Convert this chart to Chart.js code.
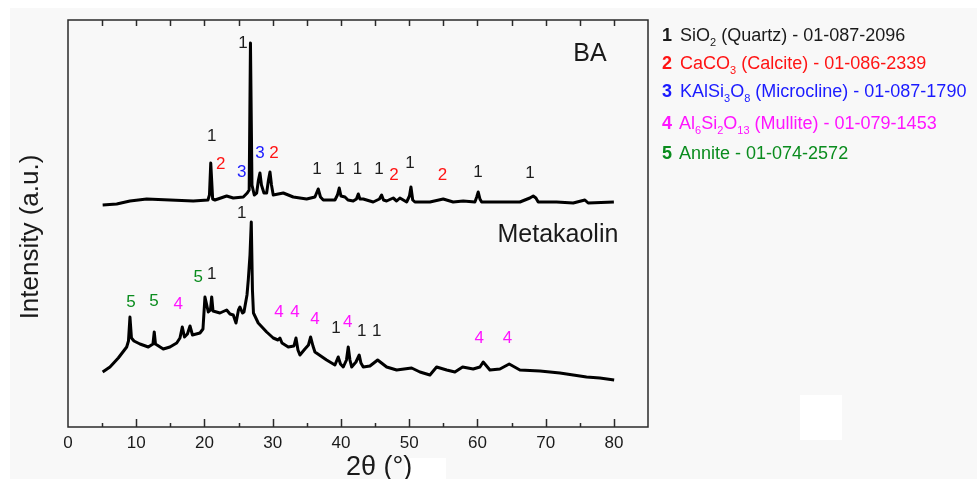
<!DOCTYPE html>
<html>
<head>
<meta charset="utf-8">
<script src="https://cdn.jsdelivr.net/npm/chart.js@4.4.0/dist/chart.umd.min.js"></script>
<style>
  body { margin: 0; background: #fff; font-family: "Liberation Sans", Arial, sans-serif; }
  #wrap { position: relative; width: 977px; height: 479px; background: #fff; overflow: hidden; }
  .bg { position: absolute; left: 10px; top: 8px; right: 0; bottom: 0; background: #f8f8f8; }
  .patch { position: absolute; background: #fff; }
  canvas { position: absolute; left: 0; top: 0; }
  .leg { position: absolute; left: 662px; font-size: 18px; white-space: nowrap; line-height: 1; }
  .leg b { margin-right: 3px; }
  .leg sub { font-size: 11px; vertical-align: -5px; line-height: 0; }
</style>
</head>
<body>
<div id="wrap">
  <div class="bg"></div>
  <div class="patch" style="left:405px;top:458px;width:41px;height:21px"></div>
  <div class="patch" style="left:800px;top:395px;width:42px;height:45px"></div>
  <canvas id="xrd" width="977" height="479"></canvas>
  <div class="leg" style="top:26px;color:#1a1a1a"><b>1</b> SiO<sub>2</sub> (Quartz) - 01-087-2096</div>
  <div class="leg" style="top:54px;color:#ff1414"><b>2</b> CaCO<sub>3</sub> (Calcite) - 01-086-2339</div>
  <div class="leg" style="top:82px;color:#1a1aff"><b>3</b> KAlSi<sub>3</sub>O<sub>8</sub> (Microcline) - 01-087-1790</div>
  <div class="leg" style="top:114px;color:#ff14ff"><b>4</b> Al<sub>6</sub>Si<sub>2</sub>O<sub>13</sub> (Mullite) - 01-079-1453</div>
  <div class="leg" style="top:144px;color:#0a8c1e"><b>5</b> Annite - 01-074-2572</div>
</div>
<script>
const xTicks = [0, 10, 20, 30, 40, 50, 60, 70, 80];
const xMinorTicks = [5, 10, 15, 20, 25, 30, 35, 40, 45, 50, 55, 60, 65, 70, 75, 80];

// BA pattern (2theta, counts a.u.)
const baTheta = [5.08, 7.14, 9.08, 11.53, 14.95, 18.36, 20.51, 20.73, 20.92, 21.2, 21.54, 23.25, 24.22, 25.69, 26.27, 26.55, 26.74, 26.96, 27.3, 27.65,
  27.91, 28.13, 28.35, 28.72, 29.11, 29.38, 29.6, 29.82, 30.08, 31.55, 33.01, 34.97, 36.19, 36.67, 37.0, 37.41, 39.12, 39.49, 39.75, 40.0,
  40.59, 41.03, 41.8, 42.27, 42.54, 42.78, 43.27, 44.73, 45.64, 45.96, 46.23, 46.7, 47.66, 48.16, 48.64, 49.63, 50.04, 50.26, 50.52, 50.84,
  53.04, 54.99, 56.45, 57.92, 59.63, 59.9, 60.12, 60.37, 60.62, 63.3, 66.23, 67.69, 68.18, 68.57, 68.91, 71.6, 74.04, 75.75, 76.23, 80.0];
const baCounts = [222, 223, 226, 228, 227, 226, 227, 232, 264, 228, 227, 231, 229, 230, 234, 237, 384, 242, 232, 234,
  247, 254, 242, 234, 234, 247, 255, 242, 232, 234, 230, 228, 230, 238, 230, 227, 227, 232, 239, 231,
  230, 227, 226, 228, 233, 228, 228, 225, 228, 232, 227, 226, 229, 226, 229, 225, 231, 240, 227, 225,
  225, 228, 225, 226, 225, 230, 235, 228, 225, 225, 225, 229, 231, 229, 225, 225, 224, 227, 224, 225];

// Metakaolin pattern
const mkTheta = [5.08, 6.15, 7.37, 8.6, 8.86, 9.08, 9.3, 9.67, 10.55, 11.77, 12.45, 12.64, 12.82, 13.96, 14.94, 15.93, 16.41, 16.75, 17.07, 17.5,
  17.88, 18.24, 19.34, 19.78, 20.07, 20.56, 20.88, 21.06, 21.25, 22.27, 23.25, 23.74, 24.22, 24.62, 24.98, 25.2, 25.57, 25.79, 26.23, 26.42,
  26.67, 26.86, 27.03, 27.18, 27.88, 29.11, 30.08, 30.77, 31.06, 31.36, 32.28, 33.11, 33.41, 33.7, 33.99, 34.72, 35.24, 35.56, 35.9, 36.19,
  37.9, 39.12, 39.6, 39.93, 40.34, 40.81, 41.07, 41.32, 41.57, 42.2, 42.68, 42.93, 43.27, 44.25, 45.38, 46.7, 48.16, 50.36, 51.58, 53.04,
  54.02, 55.49, 56.7, 57.83, 59.38, 60.37, 60.85, 61.83, 63.3, 64.66, 66.23, 69.16, 72.09, 74.04, 75.99, 77.94, 80.04];
const mkCounts = [55, 60, 69, 80, 86, 110, 89, 86, 83, 80, 83, 95, 83, 78, 80, 84, 89, 100, 90, 93,
  101, 92, 94, 98, 130, 115, 117, 130, 116, 114, 117, 113, 112, 104, 117, 120, 114, 115, 132, 147,
  172, 205, 137, 114, 104, 95, 89, 87, 89, 84, 80, 81, 89, 77, 72, 78, 82, 90, 81, 75,
  67, 62, 70, 63, 60, 67, 80, 67, 60, 65, 72, 64, 60, 61, 67, 60, 57, 59, 55, 52,
  60, 57, 55, 60, 58, 60, 65, 57, 58, 63, 57, 56, 54, 52, 50, 49, 47];

// peak labels: [2theta, height, phase]
const baPeaks = [[25.64, 384, 1], [21.05, 291, 1], [22.37, 263, 2], [25.45, 255, 3], [28.13, 274, 3], [30.18, 274, 2],
  [36.48, 258, 1], [39.85, 258, 1], [42.42, 258, 1], [45.57, 258, 1], [47.77, 252, 2], [50.11, 264, 1],
  [54.87, 252, 2], [60.07, 255, 1], [67.69, 254, 1]];
const mkPeaks = [[25.45, 214, 1], [9.23, 125, 5], [12.6, 126, 5], [16.16, 123, 4], [19.09, 150, 5], [21.05, 153, 1],
  [30.92, 115, 4], [33.26, 115, 4], [36.19, 108, 4], [39.27, 99, 1], [40.98, 105, 4], [43.03, 96, 1],
  [45.23, 96, 1], [60.26, 89, 4], [64.42, 89, 4]];
const sampleNames = [["BA", 76.5, 373], ["Metakaolin", 71.8, 192]];

const phaseColors = { 1: "#1e1e1e", 2: "#ff1414", 3: "#1a1aff", 4: "#ff14ff", 5: "#0a8c1e" };

const toPoints = (xs, ys) => xs.map((x, i) => ({ x, y: ys[i] }));

// frame, inward ticks, axis titles and peak labels
const decor = {
  id: "decor",
  afterDatasetsDraw(chart) {
    const { ctx, chartArea: a, scales: { x, y } } = chart;
    ctx.save();
    ctx.strokeStyle = "#2a2a2a";
    ctx.lineWidth = 1.5;
    ctx.strokeRect(a.left, a.top, a.right - a.left, a.bottom - a.top);
    ctx.beginPath();
    xMinorTicks.forEach(v => {
      const px = Math.round(x.getPixelForValue(v)) + 0.5;
      const len = v % 10 === 0 ? 8 : 4;
      ctx.moveTo(px, a.bottom);
      ctx.lineTo(px, a.bottom - len);
      ctx.moveTo(px, a.top);
      ctx.lineTo(px, a.top + 6);
    });
    ctx.stroke();

    ctx.textAlign = "center";
    ctx.textBaseline = "middle";
    ctx.font = "17px 'Liberation Sans', Arial";
    baPeaks.concat(mkPeaks).forEach(([t, h, p]) => {
      ctx.fillStyle = phaseColors[p];
      ctx.fillText(String(p), x.getPixelForValue(t), y.getPixelForValue(h));
    });
    ctx.fillStyle = "#1a1a1a";
    ctx.font = "25px 'Liberation Sans', Arial";
    sampleNames.forEach(([name, t, h]) => {
      ctx.fillText(name, x.getPixelForValue(t), y.getPixelForValue(h));
    });

    // axis titles
    ctx.font = "27px 'Liberation Sans', Arial";
    ctx.fillText("2θ (°)", x.getPixelForValue(45.6), 468);
    ctx.translate(31, y.getPixelForValue(190));
    ctx.rotate(-Math.PI / 2);
    ctx.font = "26px 'Liberation Sans', Arial";
    ctx.fillText("Intensity (a.u.)", 0, 0);
    ctx.restore();
  }
};

new Chart(document.getElementById("xrd"), {
  type: "line",
  data: {
    datasets: [
      { label: "BA", data: toPoints(baTheta, baCounts) },
      { label: "Metakaolin", data: toPoints(mkTheta, mkCounts) }
    ]
  },
  options: {
    responsive: false,
    animation: false,
    devicePixelRatio: 1,
    layout: { padding: { top: 20, right: 329, left: 0, bottom: 0 } },
    elements: {
      line: { borderColor: "#000", borderWidth: 3, tension: 0, borderJoinStyle: "round" },
      point: { radius: 0 }
    },
    plugins: { legend: { display: false }, tooltip: { enabled: false } },
    scales: {
      x: {
        type: "linear",
        min: 0,
        max: 85,
        afterBuildTicks: s => { s.ticks = xTicks.map(v => ({ value: v })); },
        afterFit: s => { s.height = 52; },
        grid: { display: false, drawTicks: false },
        border: { display: false },
        ticks: { color: "#1a1a1a", padding: 6, maxRotation: 0, font: { size: 17, family: "'Liberation Sans', Arial" } }
      },
      y: {
        min: 0,
        max: 407,
        afterFit: s => { s.width = 68; },
        grid: { display: false, drawTicks: false },
        border: { display: false },
        ticks: { display: false }
      }
    }
  },
  plugins: [decor]
});
</script>
</body>
</html>
